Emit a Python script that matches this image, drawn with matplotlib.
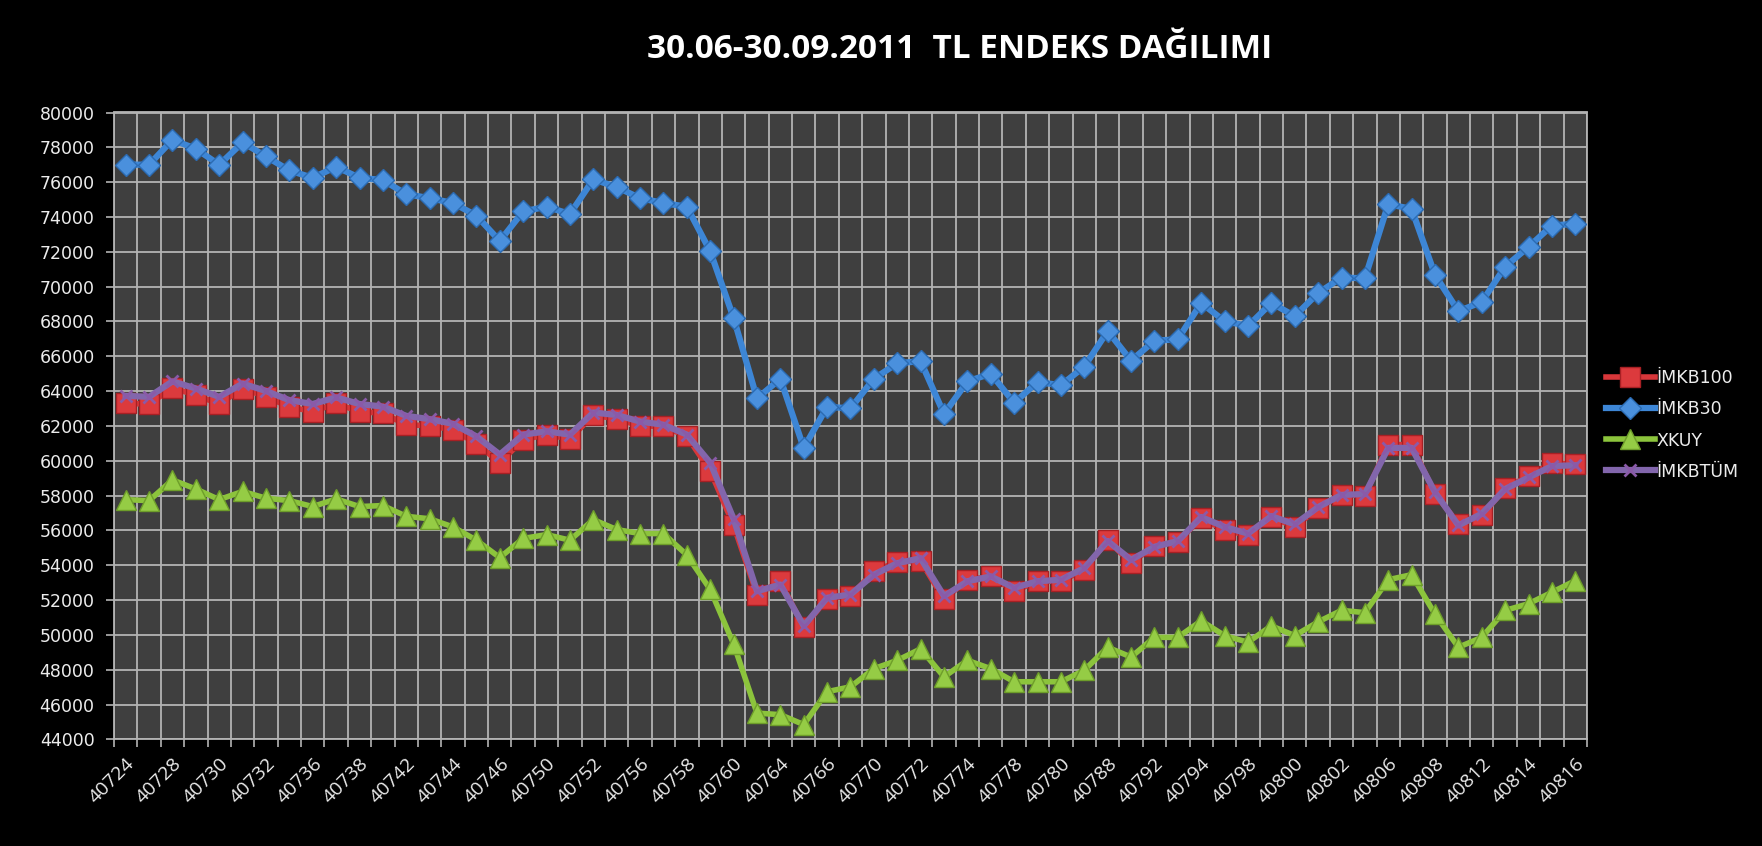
import matplotlib
matplotlib.use("Agg")
import matplotlib.pyplot as plt
from matplotlib.ticker import FixedLocator, MultipleLocator

# Excel date serials (trading days), 30.06.2011 - 30.09.2011
dates = [40724, 40725, 40728, 40729, 40730, 40731, 40732, 40735, 40736, 40737,
         40738, 40739, 40742, 40743, 40744, 40745, 40746, 40749, 40750, 40751,
         40752, 40753, 40756, 40757, 40758, 40759, 40760, 40763, 40764, 40765,
         40766, 40767, 40770, 40771, 40772, 40773, 40774, 40777, 40778, 40779,
         40780, 40781, 40788, 40791, 40792, 40793, 40794, 40795, 40798, 40799,
         40800, 40801, 40802, 40805, 40806, 40807, 40808, 40809, 40812, 40813,
         40814, 40815, 40816]

imkb100 = [63290, 63260, 64180, 63770, 63260, 64150, 63670, 63100, 62820, 63290,
           62820, 62730, 62070, 62010, 61780, 60990, 59890, 61210, 61500, 61250,
           62630, 62390, 62010, 61970, 61400, 59420, 56290, 52320, 53080, 50430,
           52090, 52230, 53650, 54210, 54250, 52040, 53170, 53360, 52510, 53080,
           53080, 53740, 55440, 54120, 55120, 55350, 56710, 56010, 55730, 56770,
           56200, 57280, 58040, 58000, 60930, 60930, 58090, 56390, 56860, 58410,
           59130, 59890, 59790]

imkb30 = [77010, 77000, 78430, 77920, 77000, 78280, 77480, 76670, 76250, 76880,
          76250, 76120, 75310, 75080, 74800, 74080, 72620, 74320, 74590, 74170,
          76160, 75720, 75080, 74800, 74590, 72030, 68210, 63580, 64710, 60740,
          63100, 63010, 64710, 65600, 65720, 62690, 64560, 65000, 63330, 64520,
          64340, 65410, 67450, 65750, 66890, 66980, 69060, 68020, 67740, 69060,
          68310, 69630, 70520, 70480, 74740, 74460, 70670, 68590, 69120, 71150,
          72280, 73510, 73610]

xkuy = [57770, 57710, 58900, 58380, 57770, 58240, 57850, 57710, 57370, 57810,
        57370, 57430, 56810, 56670, 56200, 55440, 54440, 55540, 55760, 55440,
        56620, 56050, 55820, 55820, 54590, 52610, 49480, 45510, 45420, 44850,
        46740, 47020, 48060, 48540, 49200, 47590, 48540, 48060, 47310, 47310,
        47310, 47970, 49290, 48730, 49860, 49860, 50810, 49960, 49580, 50520,
        49960, 50750, 51410, 51280, 53170, 53460, 51190, 49290, 49860, 51410,
        51790, 52450, 53120]

imkbtum = [63730, 63670, 64560, 64150, 63670, 64430, 64010, 63480, 63260, 63640,
           63260, 63110, 62580, 62390, 62120, 61400, 60360, 61500, 61690, 61500,
           62770, 62630, 62250, 62070, 61500, 59890, 56670, 52510, 52890, 50520,
           52130, 52320, 53460, 54120, 54400, 52230, 53080, 53360, 52700, 53080,
           53170, 53840, 55390, 54310, 55060, 55390, 56770, 56200, 55820, 56820,
           56350, 57340, 58040, 58090, 60740, 60740, 58190, 56290, 56960, 58380,
           59040, 59700, 59740]

TXT = "#ececec"
GRID = "#b4b4b4"

fig = plt.figure(figsize=(17.62, 8.46), dpi=100, facecolor="black")
ax = fig.add_axes([114 / 1762, 1 - 739.4 / 846, (1587 - 114) / 1762, (739.4 - 112.5) / 846])
ax.set_facecolor("#3f3f3f")

x = list(range(len(dates)))

ax.plot(x, imkb100, color="#d8373a", lw=4, marker="s", ms=14, mfc="#dc3a3d",
        mec="#a82024", mew=1, label="İMKB100", zorder=3)
ax.plot(x, imkb30, color="#3d86d6", lw=4.5, marker="D", ms=11, mfc="#4a90dd",
        mec="#2b6bb3", mew=1, label="İMKB30", zorder=4)
ax.plot(x, xkuy, color="#8cc43c", lw=4, marker="^", ms=14, mfc="#95cc45",
        mec="#6e9e2a", mew=1, label="XKUY", zorder=4)
ax.plot(x, imkbtum, color="#8266ac", lw=4.5, marker="x", ms=8, mec="#8a5aa8",
        mew=2, label="İMKBTÜM", zorder=5)

ax.set_xlim(-0.5, len(dates) - 0.5)
ax.set_ylim(44000, 80000)
ax.yaxis.set_major_locator(MultipleLocator(2000))

ax.xaxis.set_major_locator(FixedLocator(x[::2]))
ax.set_xticklabels([str(d) for d in dates[::2]])
ax.xaxis.set_minor_locator(FixedLocator([i - 0.5 for i in range(len(dates) + 1)]))

ax.grid(True, which="minor", axis="x", color=GRID, lw=1.3, zorder=0)
ax.grid(True, which="major", axis="y", color=GRID, lw=1.3, zorder=0)
ax.set_axisbelow(True)

ax.tick_params(axis="x", which="major", length=0, pad=11, colors=TXT)
ax.tick_params(axis="x", which="minor", length=6, width=1.2, color=GRID)
ax.tick_params(axis="y", length=6, width=1.2, color=GRID, colors=TXT, pad=8)
for lab in ax.get_yticklabels():
    lab.set_fontsize(12.5)
    lab.set_family("DejaVu Sans")
for lab in ax.get_xticklabels():
    lab.set_rotation(45)
    lab.set_ha("right")
    lab.set_va("top")
    lab.set_rotation_mode("anchor")
    lab.set_fontsize(14)
    lab.set_family(["Open Sans", "DejaVu Sans"])

for s in ax.spines.values():
    s.set_color(GRID)
    s.set_linewidth(1.3)

fig.text(960 / 1762, 1 - 50 / 846, "30.06-30.09.2011  TL ENDEKS DAĞILIMI",
         color="white", fontsize=24, fontweight="bold",
         family=["Open Sans", "DejaVu Sans"],
         ha="center", va="center")

leg = fig.legend(loc="center left", bbox_to_anchor=(1606 / 1762, 1 - 425 / 846),
                 frameon=False, fontsize=12.5, handlelength=2.8, handletextpad=0.1,
                 labelspacing=0.75, borderpad=0, borderaxespad=0)
for t in leg.get_texts():
    t.set_color(TXT)

fig.savefig("out.png", dpi=100, facecolor="black")
